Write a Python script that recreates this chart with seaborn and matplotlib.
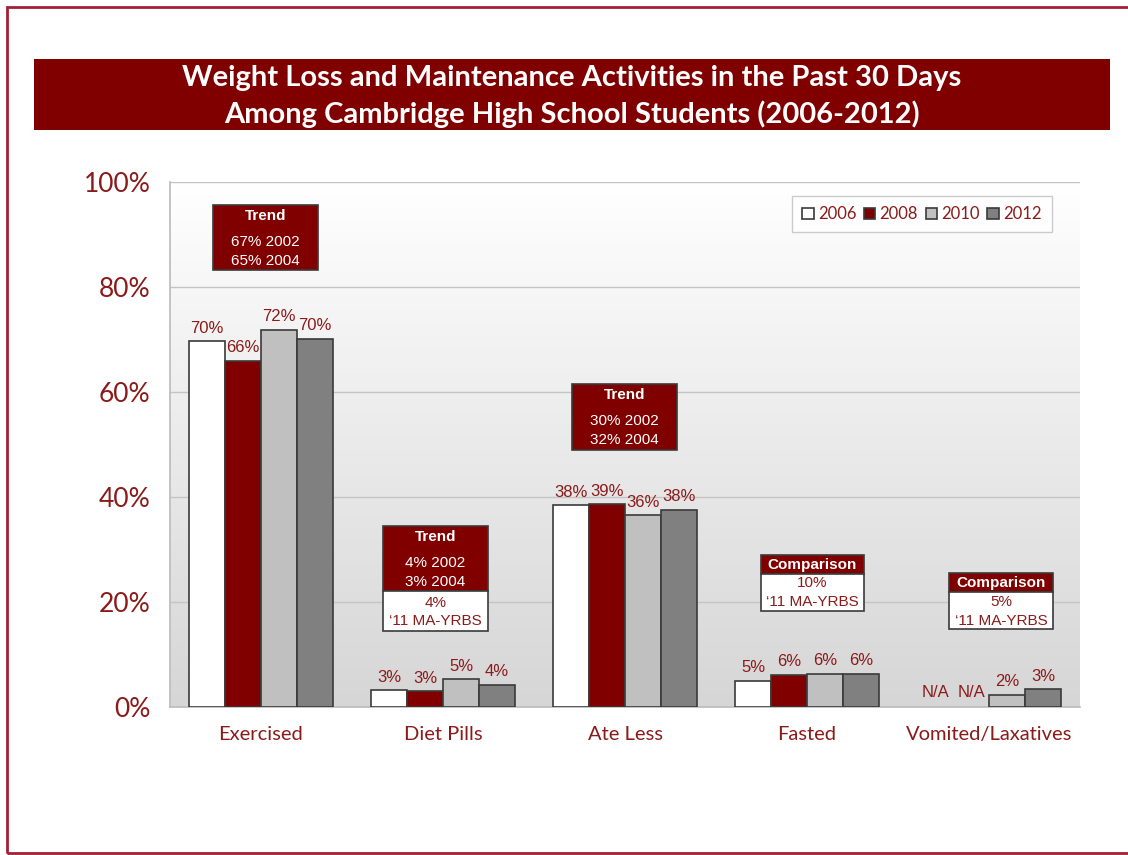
import numpy as np
import pandas as pd
import matplotlib
matplotlib.use("Agg")
import matplotlib.pyplot as plt
from matplotlib.patches import Rectangle
import seaborn as sns

# ---- data ----
categories = ["Exercised", "Diet Pills", "Ate Less", "Fasted", "Vomited/Laxatives"]
years = ["2006", "2008", "2010", "2012"]
v2006 = [69.7, 3.2, 38.4, 5.0, np.nan]
v2008 = [65.9, 3.0, 38.6, 6.1, np.nan]
v2010 = [71.8, 5.3, 36.5, 6.3, 2.3]
v2012 = [70.1, 4.2, 37.6, 6.3, 3.4]
lab2006 = ["70%", "3%", "38%", "5%", "N/A"]
lab2008 = ["66%", "3%", "39%", "6%", "N/A"]
lab2010 = ["72%", "5%", "36%", "6%", "2%"]
lab2012 = ["70%", "4%", "38%", "6%", "3%"]
yticks = [0, 20, 40, 60, 80, 100]
ytick_labels = ["0%", "20%", "40%", "60%", "80%", "100%"]
title_lines = ["Weight Loss and Maintenance Activities in the Past 30 Days",
               "Among Cambridge High School Students (2006-2012)"]

RED = "#800000"
TXT = "#8b1a1a"
colors = ["#ffffff", RED, "#c0c0c0", "#808080"]

rows = []
for y, vals in zip(years, [v2006, v2008, v2010, v2012]):
    for c, v in zip(categories, vals):
        rows.append({"cat": c, "year": y, "val": v})
df = pd.DataFrame(rows)

sns.set_theme(style="white")
plt.rcParams["font.family"] = ["Lato", "DejaVu Sans"]

fig = plt.figure(figsize=(11.28, 8.55), dpi=100)
ax = fig.add_axes([170/1128, 1-707/855, 910/1128, 525/855])

# gradient background (white at top, light grey at bottom)
grad = np.linspace(0, 1, 256).reshape(-1, 1)
cmap = matplotlib.colors.LinearSegmentedColormap.from_list("g", ["#ffffff", "#d6d6d6"])
ax.imshow(grad, extent=[-0.5, 4.5, 0, 100], origin="upper", aspect="auto", cmap=cmap, zorder=0)

sns.barplot(data=df, x="cat", y="val", hue="year", order=categories, hue_order=years,
            palette=colors, edgecolor="#3a3a3a", linewidth=1.2, width=0.79,
            saturation=1, ax=ax, zorder=3, legend=True)

ax.set_xlim(-0.5, 4.5)
ax.set_ylim(0, 100)
ax.set_yticks(yticks)
ax.set_yticklabels(ytick_labels, color=TXT, fontsize=19)
ax.set_xticks(range(len(categories)))
ax.set_xticklabels(categories, color=TXT, fontsize=14.5)
ax.tick_params(axis="x", pad=14, length=0)
ax.tick_params(axis="y", pad=14, length=0)
ax.set_xlabel("")
ax.set_ylabel("")
ax.grid(axis="y", color="#c4c4c4", linewidth=1, zorder=1)
ax.set_axisbelow(True)
for s in ["top", "right"]:
    ax.spines[s].set_visible(False)
ax.spines["left"].set_color("#bdbdbd")
ax.spines["bottom"].set_color("#bdbdbd")

# value labels
all_labels = [lab2006, lab2008, lab2010, lab2012]
all_vals = [v2006, v2008, v2010, v2012]
for cont, labs, vals in zip(ax.containers, all_labels, all_vals):
    present = [l for l, v in zip(labs, vals) if not np.isnan(v)]
    ax.bar_label(cont, labels=present, padding=4, color=TXT, fontsize=12,
                 family="Liberation Sans", zorder=5)
    # N/A labels for missing bars
    xc0 = cont.patches[0].get_x() + cont.patches[0].get_width() / 2
    for i, (l, v) in enumerate(zip(labs, vals)):
        if np.isnan(v):
            ax.text(xc0 + i, 1.3, l, ha="center", va="bottom", color=TXT,
                    fontsize=12, family="Liberation Sans", zorder=5)

# legend
handles, labels = ax.get_legend_handles_labels()
leg = ax.legend(handles, labels, ncol=4, loc="upper right", bbox_to_anchor=(0.969, 0.973),
                borderaxespad=0, frameon=True, fancybox=False, handlelength=0.7,
                handleheight=0.7, handletextpad=0.25, columnspacing=0.45, borderpad=0.6,
                fontsize=12)
leg.get_frame().set_edgecolor("#bfbfbf")
leg.get_frame().set_linewidth(1)
for t in leg.get_texts():
    t.set_color(TXT)
leg.set_zorder(6)

# annotation boxes
def box(x0, x1, y_top, y_mid, y_bot):
    ax.add_patch(Rectangle((x0, y_mid), x1 - x0, y_top - y_mid, facecolor=RED,
                           edgecolor="#3a3a3a", lw=1.2, zorder=6))
    if y_bot is not None:
        ax.add_patch(Rectangle((x0, y_bot), x1 - x0, y_mid - y_bot, facecolor="white",
                               edgecolor="#3a3a3a", lw=1.2, zorder=6))
    return (x0 + x1) / 2

def ytxt(py):
    return (707 - py) / 5.25

def xdat(px):
    return (px - 170) / 182 - 0.5

kw_b = dict(ha="center", va="center", family="Liberation Sans", fontsize=11, zorder=7)

# Exercised trend
xc = box(xdat(213), xdat(318), ytxt(205), ytxt(270), None)
ax.text(xc, ytxt(216), "Trend", color="white", fontweight="bold", **kw_b)
ax.text(xc, ytxt(242), "67% 2002", color="white", **kw_b)
ax.text(xc, ytxt(261), "65% 2004", color="white", **kw_b)

# Diet pills
xc = box(xdat(383), xdat(488), ytxt(526), ytxt(591), ytxt(631))
ax.text(xc, ytxt(537), "Trend", color="white", fontweight="bold", **kw_b)
ax.text(xc, ytxt(563), "4% 2002", color="white", **kw_b)
ax.text(xc, ytxt(582), "3% 2004", color="white", **kw_b)
ax.text(xc, ytxt(603), "4%", color=TXT, **kw_b)
ax.text(xc, ytxt(621), "\u201811 MA-YRBS", color=TXT, **kw_b)

# Ate less
xc = box(xdat(572), xdat(677), ytxt(384), ytxt(450), None)
ax.text(xc, ytxt(395), "Trend", color="white", fontweight="bold", **kw_b)
ax.text(xc, ytxt(421), "30% 2002", color="white", **kw_b)
ax.text(xc, ytxt(440), "32% 2004", color="white", **kw_b)

# Fasted comparison
xc = box(xdat(761), xdat(864), ytxt(555), ytxt(574), ytxt(611))
ax.text(xc, ytxt(565), "Comparison", color="white", fontweight="bold", **kw_b)
ax.text(xc, ytxt(583), "10%", color=TXT, **kw_b)
ax.text(xc, ytxt(602), "\u201811 MA-YRBS", color=TXT, **kw_b)

# Vomited comparison
xc = box(xdat(949), xdat(1053), ytxt(573), ytxt(592), ytxt(629))
ax.text(xc, ytxt(583), "Comparison", color="white", fontweight="bold", **kw_b)
ax.text(xc, ytxt(602), "5%", color=TXT, **kw_b)
ax.text(xc, ytxt(621), "\u201811 MA-YRBS", color=TXT, **kw_b)

# title banner
fig.patches.append(Rectangle((34/1128, 1-130/855), (1110-34)/1128, 71/855,
                             transform=fig.transFigure, facecolor=RED, edgecolor="none", zorder=1))
fig.text(572/1128, 1-78/855, title_lines[0], ha="center", va="center", color="white",
         fontsize=21, fontweight="bold", family=["Lato", "DejaVu Sans"])
fig.text(572/1128, 1-114/855, title_lines[1], ha="center", va="center", color="white",
         fontsize=21, fontweight="bold", family=["Lato", "DejaVu Sans"])

# outer border
fig.patches.append(Rectangle((7/1128, 2/855), 1.1, (846)/855, transform=fig.transFigure,
                             facecolor="none", edgecolor="#a31f34", lw=2, zorder=0))

fig.savefig("out.png", dpi=100)
